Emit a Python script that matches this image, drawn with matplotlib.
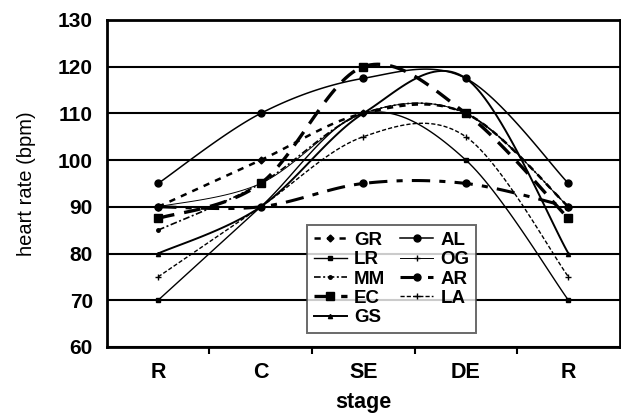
import matplotlib

matplotlib.use("Agg")
import matplotlib.pyplot as plt
import numpy as np

STAGES = ["R", "C", "SE", "DE", "R"]
SERIES = ["GR", "LR", "MM", "EC", "GS", "AL", "OG", "AR", "LA"]

GR = [90, 100, 110, 110, 90]
LR = [70, 90, 110, 100, 70]
MM = [85, 95, 110, 110, 90]
EC = [87.5, 95, 120, 110, 87.5]
GS = [80, 90, 110, 117.5, 80]
AL = [95, 110, 117.5, 117.5, 95]
OG = [90, 95, 110, 110, 90]
AR = [90, 90, 95, 95, 90]
LA = [75, 90, 105, 105, 75]

STYLES = {
    "GR": dict(ls=(0, (2.5, 2.5)), lw=1.8, marker="D", ms=3.5),
    "LR": dict(ls="-", lw=1.0, marker="s", ms=3),
    "MM": dict(ls=(0, (4, 1.5, 1.2, 1.5)), lw=1.2, marker="o", ms=2.5),
    "EC": dict(ls=(0, (5, 3)), lw=2.4, marker="s", ms=5.5),
    "GS": dict(ls="-", lw=1.4, marker="^", ms=3),
    "AL": dict(ls="-", lw=1.1, marker="o", ms=5),
    "OG": dict(ls="-", lw=0.7, marker="+", ms=5),
    "AR": dict(ls=(0, (6, 3, 2, 3)), lw=2.2, marker="o", ms=5),
    "LA": dict(ls=(0, (3, 1.5)), lw=1.0, marker="+", ms=4),
}


def smooth(y, n=30):
    # Excel-style smoothed line: cubic Bezier with Catmull-Rom control points
    y = np.asarray(y, dtype=float)
    x = np.arange(len(y), dtype=float)
    pts = np.column_stack([x, y])
    ext = np.vstack([pts[0], pts, pts[-1]])
    out = []
    t = np.linspace(0, 1, n)[:, None]
    for i in range(len(pts) - 1):
        p0, p3 = ext[i + 1], ext[i + 2]
        p1 = p0 + (ext[i + 2] - ext[i]) / 6
        p2 = p3 - (ext[i + 3] - ext[i + 1]) / 6
        seg = ((1 - t) ** 3) * p0 + 3 * ((1 - t) ** 2) * t * p1 + 3 * (1 - t) * t**2 * p2 + t**3 * p3
        out.append(seg if i == 0 else seg[1:])
    c = np.vstack(out)
    return c[:, 0], c[:, 1]


plt.rcParams["font.family"] = ["Liberation Sans", "DejaVu Sans"]

fig = plt.figure(figsize=(6.21, 4.16), dpi=100, facecolor="white")
ax = fig.add_axes([0.172, 0.166, 0.826, 0.786])

data = dict(GR=GR, LR=LR, MM=MM, EC=EC, GS=GS, AL=AL, OG=OG, AR=AR, LA=LA)
x = np.arange(len(STAGES))
handles = []
for name in SERIES:
    st = STYLES[name]
    xs, ys = smooth(data[name])
    ax.plot(xs, ys, color="black", ls=st["ls"], lw=st["lw"], zorder=3)
    ax.plot(x, data[name], ls="none", marker=st["marker"], ms=st["ms"],
            color="black", mew=1.0, zorder=4)
    h, = ax.plot([], [], color="black", ls=st["ls"], lw=st["lw"],
                 marker=st["marker"], ms=st["ms"], mew=1.0, label=name)
    handles.append(h)

ax.set_xlim(-0.5, 4.5)
ax.set_ylim(60, 130)
ax.set_yticks(range(60, 131, 10))
ax.yaxis.grid(True, color="black", lw=1.5)
ax.set_axisbelow(True)
ax.set_xticks(x)
ax.set_xticklabels(STAGES)
ax.set_xticks(np.arange(0.5, 4.5, 1), minor=True)
ax.tick_params(axis="x", which="major", length=0, pad=11)
ax.tick_params(axis="x", which="minor", length=5, width=1.5, direction="out")
ax.tick_params(axis="y", length=0, pad=10)
for lab in ax.get_xticklabels():
    lab.set_fontsize(15.5)
    lab.set_fontweight("bold")
for lab in ax.get_yticklabels():
    lab.set_fontsize(15)
    lab.set_fontweight("bold")
for sp in ax.spines.values():
    sp.set_linewidth(2)
    sp.set_color("black")

ax.set_xlabel("stage", fontsize=15.5, fontweight="bold", labelpad=6)
ax.set_ylabel("heart rate (bpm)", fontsize=14.5, labelpad=16)

leg = ax.legend(handles=handles, ncol=2, loc="lower left",
                bbox_to_anchor=(0.3906, 0.043), borderaxespad=0, frameon=True,
                fancybox=False, edgecolor="#444444", handlelength=1.75,
                handletextpad=0.4, columnspacing=0.8, labelspacing=0.12,
                borderpad=0.35, prop=dict(weight="bold", size=13.5))
leg.get_frame().set_linewidth(1.4)
leg.set_zorder(5)

fig.savefig("out.png", dpi=100, facecolor="white")
